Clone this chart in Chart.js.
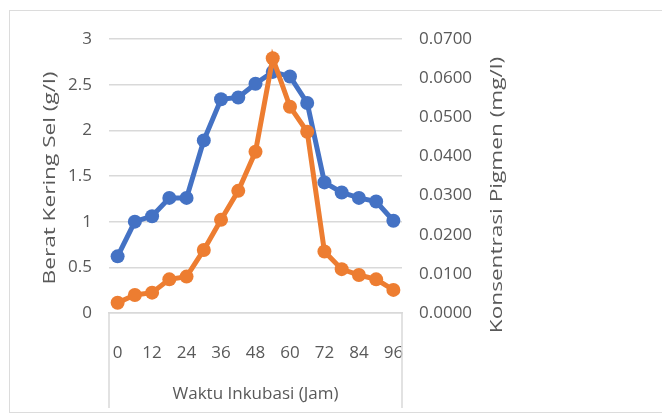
<!DOCTYPE html>
<html lang="id">
<head>
  <meta charset="UTF-8" />
  <title>Berat Kering Sel dan Konsentrasi Pigmen</title>
  <script src="https://cdn.jsdelivr.net/npm/chart.js"></script>
  <style>
    html, body { margin: 0; padding: 0; background: #fff; }
    body { width: 662px; height: 414px; overflow: hidden; position: relative; }
    .bingkai { position: absolute; left: 9px; top: 10px; width: 700px; height: 401px; border: 1px solid #dcdcdc; }
    #grafik { position: absolute; left: 0; top: 0; }
  </style>
</head>
<body>
  <div class="bingkai"></div>
  <canvas id="grafik" width="662" height="414"></canvas>

  <script>
    // waktu inkubasi (jam)
    const jam = [0, 6, 12, 18, 24, 30, 36, 42, 48, 54, 60, 66, 72, 78, 84, 90, 96];
    // berat kering sel (g/l) - sumbu kiri
    const beratKering = [0.62, 1.0, 1.06, 1.26, 1.26, 1.89, 2.34, 2.36, 2.51, 2.64, 2.59, 2.30, 1.43, 1.32, 1.26, 1.22, 1.01];
    // konsentrasi pigmen (mg/l) - sumbu kanan
    const pigmen = [0.0026, 0.0046, 0.0052, 0.0086, 0.0093, 0.0161, 0.0238, 0.0312, 0.0412, 0.0651, 0.0527, 0.0463, 0.0157, 0.0112, 0.0097, 0.0086, 0.0059];
    const tickKiri = [0, 0.5, 1, 1.5, 2, 2.5, 3];
    const tickKanan = [0, 0.01, 0.02, 0.03, 0.04, 0.05, 0.06, 0.07];

    const judulX = 'Waktu Inkubasi (Jam)';
    const judulKiri = 'Berat Kering Sel (g/l)';
    const judulKanan = 'Konsentrasi Pigmen (mg/l)';

    const abu = '#595959';
    const garis = '#d9d9d9';
    const huruf = { family: '"Open Sans", sans-serif', size: 17 };

    // kotak di bawah sumbu x + judul sumbu y (ditulis tegak, dibaca dari bawah)
    const hiasan = {
      id: 'hiasan',
      afterDraw(chart) {
        const { ctx, chartArea: a } = chart;
        ctx.save();
        ctx.strokeStyle = garis;
        ctx.lineWidth = 1.5;
        ctx.beginPath();
        ctx.moveTo(a.left, a.bottom); ctx.lineTo(a.left, 408);
        ctx.moveTo(a.right, a.bottom); ctx.lineTo(a.right, 408);
        ctx.stroke();

        ctx.fillStyle = abu;
        ctx.font = '17px "Open Sans", sans-serif';
        ctx.textAlign = 'center';
        ctx.textBaseline = 'middle';
        const tegak = (teks, x, y) => {
          ctx.save();
          ctx.translate(x, y);
          ctx.rotate(-Math.PI / 2);
          ctx.scale(1.33, 1);
          ctx.fillText(teks, 0, 0);
          ctx.restore();
        };
        tegak(judulKiri, 50, 178);
        tegak(judulKanan, 497, 195);
        ctx.restore();
      }
    };

    new Chart(document.getElementById('grafik'), {
      type: 'line',
      data: {
        labels: jam,
        datasets: [
          {
            label: judulKiri,
            data: beratKering,
            yAxisID: 'y',
            borderColor: '#4472c4',
            backgroundColor: '#4472c4',
            borderWidth: 5,
            pointRadius: 7,
            pointBorderWidth: 0,
            tension: 0,
            order: 1
          },
          {
            label: judulKanan,
            data: pigmen,
            yAxisID: 'y1',
            borderColor: '#ed7d31',
            backgroundColor: '#ed7d31',
            borderWidth: 5,
            pointRadius: 7,
            pointBorderWidth: 0,
            tension: 0,
            order: 0
          }
        ]
      },
      options: {
        responsive: false,
        animation: false,
        layout: { padding: { top: 39, left: 0, right: 0, bottom: 0 } },
        plugins: {
          legend: { display: false },
          tooltip: { enabled: false }
        },
        scales: {
          x: {
            offset: true,
            grid: { display: false, offset: true },
            border: { display: true, color: garis, width: 1.5 },
            ticks: {
              autoSkip: false,
              maxRotation: 0,
              padding: 22,
              color: abu,
              font: huruf,
              callback: (v, i) => (i % 2 === 0 ? String(jam[i]) : '')
            },
            title: { display: true, text: judulX, color: abu, font: huruf, padding: { top: 0, bottom: 10 } },
            afterFit: s => { s.height = 101; }
          },
          y: {
            position: 'left',
            min: 0,
            max: 3,
            afterBuildTicks: s => { s.ticks = tickKiri.map(v => ({ value: v })); },
            grid: { color: garis, lineWidth: 1.5, drawTicks: false },
            border: { display: false },
            ticks: { padding: 17, color: abu, font: huruf, callback: v => String(v) },
            afterFit: s => { s.width = 109; }
          },
          y1: {
            position: 'right',
            min: 0,
            max: 0.07,
            afterBuildTicks: s => { s.ticks = tickKanan.map(v => ({ value: v })); },
            grid: { display: false, drawTicks: false },
            border: { display: false },
            ticks: { padding: 17, color: abu, font: huruf, callback: v => v.toFixed(4) },
            afterFit: s => { s.width = 260; }
          }
        }
      },
      plugins: [hiasan]
    });
  </script>
</body>
</html>
